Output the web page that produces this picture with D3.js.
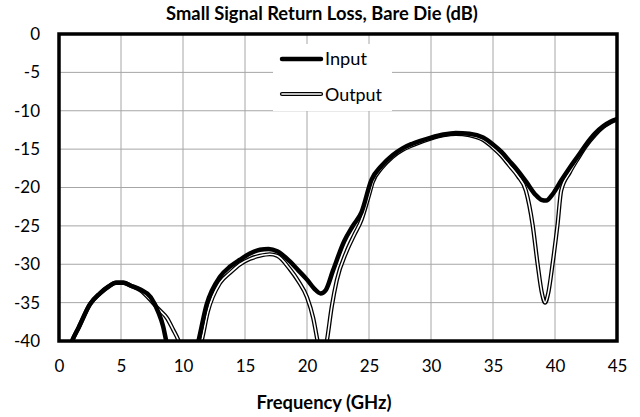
<!DOCTYPE html>
<html><head><meta charset="utf-8">
<script src="https://cdn.jsdelivr.net/npm/d3@7"></script>
<style>body{margin:0;background:#fff}svg{display:block}text{font-family:Lato,"Open Sans",sans-serif;fill:#000}</style>
</head><body><svg id="c" width="640" height="417"></svg>
<script>
const titleText = "Small Signal Return Loss, Bare Die (dB)";
const xTitleText = "Frequency (GHz)";
const seriesNames = ["Input", "Output"];
const xTicks = [0, 5, 10, 15, 20, 25, 30, 35, 40, 45];
const yTicks = [0, -5, -10, -15, -20, -25, -30, -35, -40];

const inputFreq = [0.6, 1.05, 1.6, 2.5, 3.3, 4.0, 4.6, 5.2, 5.8, 6.56, 7.4, 8.0, 8.4, 8.65, 9.2, 10.0, 10.8, 11.25, 11.9, 13.0, 13.8, 14.6, 15.4, 16.2, 16.9, 17.6, 18.6, 19.3, 20.0, 20.6, 21.1, 21.5, 22.1, 23.0, 23.7, 24.4, 25.2, 26.0, 26.9, 27.7, 28.5, 30.0, 31.0, 32.0, 33.1, 34.2, 35.0, 35.7, 36.3, 37.0, 37.7, 38.4, 38.9, 39.3, 39.8, 40.5, 41.2, 41.9, 42.5, 43.2, 43.9, 44.5, 45.0];
const inputDb   = [-42, -40, -38.2, -35.2, -33.8, -32.9, -32.4, -32.4, -32.8, -33.3, -34.3, -36.2, -38.1, -40, -43, -46, -43, -40, -35.3, -31.6, -30.3, -29.4, -28.6, -28.1, -28.0, -28.3, -29.6, -30.8, -32.0, -33.2, -33.8, -33.4, -30.8, -27.0, -25.0, -23.2, -19.0, -17.2, -15.8, -14.9, -14.3, -13.5, -13.1, -12.9, -13.0, -13.5, -14.4, -15.4, -16.5, -17.8, -19.3, -20.9, -21.6, -21.7, -20.9, -19.1, -17.4, -15.8, -14.4, -13.0, -12.0, -11.4, -11.1];

const outputFreq = [0.6, 1.05, 1.6, 2.5, 3.3, 4.0, 4.6, 5.2, 5.8, 6.56, 7.4, 8.0, 8.7, 9.2, 9.65, 10.2, 10.8, 11.5, 12.0, 13.0, 13.8, 14.6, 15.4, 16.2, 17.0, 17.6, 18.6, 19.3, 20.0, 20.5, 20.85, 21.2, 21.6, 22.0, 22.4, 23.2, 23.8, 24.4, 25.0, 25.3, 26.0, 26.9, 27.7, 28.5, 30.0, 31.0, 32.0, 33.1, 34.2, 35.0, 35.7, 36.3, 37.0, 37.65, 38.2, 38.6, 38.95, 39.2, 39.45, 39.8, 40.2, 40.5, 41.2, 41.9, 42.5, 43.2, 43.9, 44.5, 45.0];
const outputDb   = [-42, -40, -38.2, -35.2, -33.8, -32.9, -32.4, -32.4, -32.8, -33.4, -34.7, -35.8, -37.0, -38.5, -40, -43, -43, -40, -36.2, -32.4, -31.1, -30.0, -29.3, -28.9, -28.7, -28.9, -30.6, -32.2, -34.3, -37.0, -40, -43, -40, -35.5, -32.1, -28.3, -26.2, -24.2, -21.0, -19.3, -17.5, -16.0, -15.1, -14.5, -13.6, -13.2, -13.0, -13.2, -13.8, -14.8, -15.9, -17.1, -18.5, -20.4, -24.9, -30.0, -33.8, -35.0, -33.8, -30.0, -24.9, -20.4, -18.0, -16.1, -14.6, -13.2, -12.1, -11.5, -11.1];

const svg = d3.select("#c");
const L = 59, R = 617, T = 34, B = 341;
const x = d3.scaleLinear().domain([0, 45]).range([L, R]);
const y = d3.scaleLinear().domain([-40, 0]).range([B, T]);

function fit(sel, w) {
  const cur = sel.node().getComputedTextLength();
  const fs = parseFloat(sel.attr("font-size"));
  sel.attr("font-size", (fs * w / cur).toFixed(2));
}

// title
const t = svg.append("text").attr("x", 322).attr("y", 20).attr("text-anchor", "middle")
  .attr("font-size", 17).attr("font-weight", "bold").text(titleText);
fit(t, 312);

// gridlines
const grid = svg.append("g");
grid.selectAll("line.v").data(xTicks).join("line").attr("class", "v")
  .attr("x1", d => x(d)).attr("x2", d => x(d)).attr("y1", T).attr("y2", B)
  .attr("stroke", "#a6a6a6").attr("stroke-width", 1);
grid.selectAll("line.h").data(yTicks).join("line").attr("class", "h")
  .attr("x1", L).attr("x2", R).attr("y1", d => y(d)).attr("y2", d => y(d))
  .attr("stroke", "#a6a6a6").attr("stroke-width", 1);

// axes (labels via d3 axis)
const xAxis = svg.append("g").attr("transform", `translate(0,${B})`)
  .call(d3.axisBottom(x).tickValues(xTicks).tickSize(0).tickPadding(19));
xAxis.select(".domain").remove();
xAxis.selectAll("text").attr("font-size", 17).attr("font-family", "Lato").attr("fill", "#000");

const yAxis = svg.append("g").attr("transform", `translate(${L},0)`)
  .call(d3.axisLeft(y).tickValues(yTicks).tickSize(0).tickPadding(19).tickFormat(d => String(d)));
yAxis.select(".domain").remove();
yAxis.selectAll("text").attr("font-size", 17).attr("font-family", "Lato").attr("fill", "#000");

// x title
const xt = svg.append("text").attr("x", 324).attr("y", 409).attr("text-anchor", "middle")
  .attr("font-size", 16).attr("font-weight", "bold").text(xTitleText);
fit(xt, 135);

// clip
svg.append("clipPath").attr("id", "clip").append("rect")
  .attr("x", L).attr("y", T).attr("width", R - L).attr("height", B - T);

const line = d3.line().x(d => x(d[0])).y(d => y(d[1])).curve(d3.curveMonotoneX);
const inData = inputFreq.map((f, i) => [f, inputDb[i]]);
const outData = outputFreq.map((f, i) => [f, outputDb[i]]);

const plot = svg.append("g").attr("clip-path", "url(#clip)");
plot.append("path").attr("d", line(outData)).attr("fill", "none").attr("stroke", "#000").attr("stroke-width", 4.2).attr("stroke-linejoin", "round");
plot.append("path").attr("d", line(outData)).attr("fill", "none").attr("stroke", "#fff").attr("stroke-width", 1.6).attr("stroke-linejoin", "round");
plot.append("path").attr("d", line(inData)).attr("fill", "none").attr("stroke", "#000").attr("stroke-width", 4.5).attr("stroke-linejoin", "round");

// plot border
svg.append("rect").attr("x", L).attr("y", T).attr("width", R - L).attr("height", B - T)
  .attr("fill", "none").attr("stroke", "#000").attr("stroke-width", 3.5);

// legend
const lg = svg.append("g");
lg.append("rect").attr("x", 273).attr("y", 44).attr("width", 119).attr("height", 67).attr("fill", "#fff");
lg.append("line").attr("x1", 282).attr("x2", 321).attr("y1", 59).attr("y2", 59).attr("stroke", "#000").attr("stroke-width", 4.5).attr("stroke-linecap", "round");
lg.append("line").attr("x1", 282).attr("x2", 321).attr("y1", 94).attr("y2", 94).attr("stroke", "#000").attr("stroke-width", 4.2).attr("stroke-linecap", "round");
lg.append("line").attr("x1", 282).attr("x2", 321).attr("y1", 94).attr("y2", 94).attr("stroke", "#fff").attr("stroke-width", 1.6).attr("stroke-linecap", "round");
const l1 = lg.append("text").attr("x", 325).attr("y", 65).attr("font-size", 16).text(seriesNames[0]);
fit(l1, 42);
const l2 = lg.append("text").attr("x", 325).attr("y", 100.5).attr("font-size", 16).text(seriesNames[1]);
fit(l2, 57);
</script></body></html>
